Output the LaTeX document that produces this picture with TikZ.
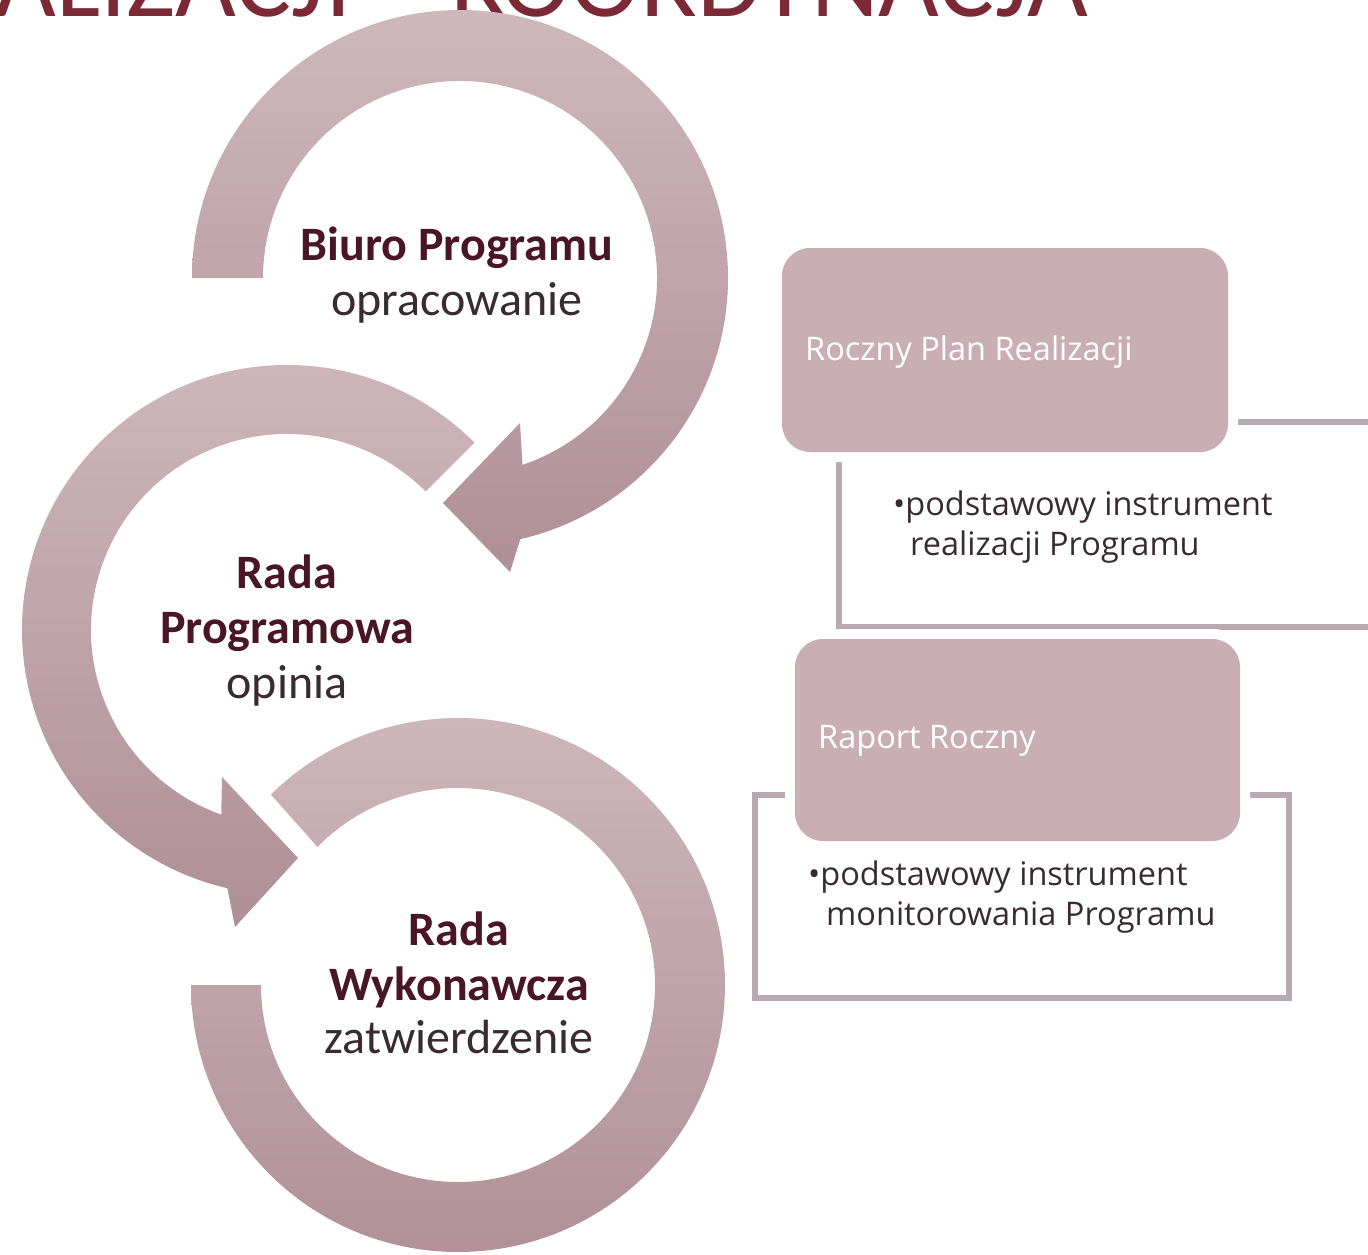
\documentclass[tikz,border=0pt]{standalone}
\usepackage{fontspec}
\setmainfont{Carlito}
\newfontfamily\boxfont{Open Sans}
\usetikzlibrary{calc}
\definecolor{ringlight}{HTML}{CEB8BC}
\definecolor{ringdark}{HTML}{B08F97}
\definecolor{boxfill}{HTML}{C9AFB3}
\definecolor{bracketcol}{HTML}{B9AAB1}
\definecolor{titlecol}{HTML}{7B2935}
\definecolor{headcol}{HTML}{4A1524}
\definecolor{subcol}{HTML}{3A2B31}
\begin{document}
\begin{tikzpicture}[x=1pt,y=-1pt,
  ring/.style={top color=ringlight, bottom color=ringdark, draw=none},
  ringhead/.style={font=\fontsize{48}{55}\selectfont\bfseries, text=headcol, anchor=base, inner sep=0pt},
  ringsub/.style={font=\fontsize{48}{55}\selectfont, text=subcol, anchor=base, inner sep=0pt},
  bracket/.style={draw=bracketcol, line width=6.5pt},
  rbox/.style={rectangle, rounded corners=28pt, fill=boxfill, inner sep=0pt,
    preaction={draw=white, line width=20pt}},
  boxtitle/.style={font=\boxfont\fontsize{32.5}{40}\selectfont, text=white, anchor=base west, inner sep=0pt},
  boxtext/.style={font=\boxfont\fontsize{32.5}{40}\selectfont, text=subcol, anchor=base west, inner sep=0pt}]
\clip (0,0) rectangle (1368,1255);
\fill[white] (0,0) rectangle (1368,1255);

% title (cut off at the top)
\node[anchor=base east, inner sep=0pt, text=titlecol, font=\fontsize{105}{110}\selectfont] (title) at (1088,17) {REALIZACJI – KOORDYNACJA};

% ring centres
\coordinate (cT) at (460,278);
\coordinate (cM) at (287,630);
\coordinate (cB) at (458,985);

% top circular arrow
\path[ring] ($(cT)+(180:268)$) arc[start angle=180, end angle=437, radius=268]
  -- (510,572) -- (443,503) -- (520,423)
  -- ($(cT)+(431.5:197)$) arc[start angle=431.5, end angle=180, radius=197] -- cycle;

% middle circular arrow
\path[ring] ($(cM)+(-45:265)$) arc[start angle=-45, end angle=-257, radius=265]
  -- (235,927) -- (298,858) -- (222,777)
  -- ($(cM)+(-250.4:196)$) arc[start angle=-250.4, end angle=-45, radius=196] -- cycle;

% bottom circular arc
\path[ring] ($(cB)+(-134.5:267)$) arc[start angle=-134.5, end angle=180, radius=267]
  -- ($(cB)+(180:197)$) arc[start angle=180, end angle=-135.5, radius=197] -- cycle;

% ring texts
\node[ringhead] (t1) at (457,260) {Biuro Programu};
\node[ringsub]  (t2) at (457,315) {opracowanie};
\node[ringhead] (m1) at (287,588) {Rada};
\node[ringhead] (m2) at (287,643) {Programowa};
\node[ringsub]  (m3) at (287,698) {opinia};
\node[ringhead] (b1) at (459,945) {Rada};
\node[ringhead] (b2) at (459,1000) {Wykonawcza};
\node[ringsub]  (b3) at (459,1053) {zatwierdzenie};

% brackets behind boxes
\draw[bracket] (839,422) rectangle (1395,627);
\draw[bracket] (755,795) rectangle (1289,998);

% boxes
\node[rbox, minimum width=446pt, minimum height=204pt] (box1) at (1005,350) {};
\node[rbox, minimum width=445pt, minimum height=202pt] (box2) at (1017.5,740) {};

\node[boxtitle] (box1t) at (805,360) {Roczny Plan Realizacji};
\node[boxtitle] (box2t) at (818,748) {Raport Roczny};

\node[boxtext] (d1a) at (893,515) {•podstawowy instrument};
\node[boxtext] (d1b) at (910,555) {realizacji Programu};
\node[boxtext] (d2a) at (808,885) {•podstawowy instrument};
\node[boxtext] (d2b) at (826,925) {monitorowania Programu};
\end{tikzpicture}
\end{document}
